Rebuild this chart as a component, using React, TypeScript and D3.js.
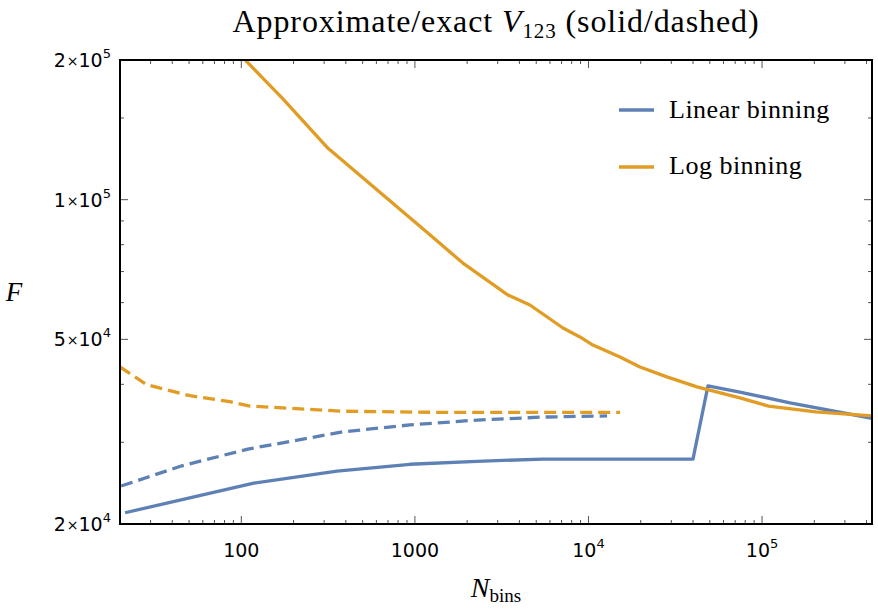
import React from "react";
import * as d3 from "d3";

// values (N_bins, F)
const linApproxN = [21.4, 118, 356, 937, 2277, 5470, 17300, 40000, 48800, 74500, 145000, 430000];
const linApproxF = [21150, 24500, 26000, 26900, 27300, 27600, 27600, 27600, 39700, 38500, 36500, 33800];

const linExactN = [20.3, 45.5, 109, 385, 937, 2277, 5470, 12800];
const linExactF = [24150, 26700, 29000, 31600, 32700, 33500, 34000, 34200];

const logApproxN = [100, 171, 316, 1220, 1890, 2600, 3440, 4600, 7130, 8930, 10600, 15200, 19800, 28300, 42200, 74500, 109000, 204000, 430000];
const logApproxF = [204000, 166000, 129000, 84000, 73000, 67100, 62300, 59300, 52900, 50600, 48600, 45800, 43600, 41500, 39500, 37400, 35900, 34900, 34200];

const logExactN = [20, 28.6, 50.6, 86, 112, 385, 1450, 15200];
const logExactF = [43600, 39900, 37800, 36700, 35900, 35000, 34800, 34800];

const xMajor = [100, 1000, 1e4, 1e5];
const xMinor = [30, 40, 50, 60, 70, 80, 90, 200, 300, 400, 500, 600, 700, 800, 900, 2000, 3000, 4000, 5000, 6000, 7000, 8000, 9000, 2e4, 3e4, 4e4, 5e4, 6e4, 7e4, 8e4, 9e4, 2e5, 3e5, 4e5];
const yMajor = [2e4, 5e4, 1e5, 2e5];
const yMajorLabels = [["2", "4"], ["5", "4"], ["1", "5"], ["2", "5"]];
const yMinor = [3e4, 4e4, 6e4, 7e4, 8e4, 9e4, 1.5e5];

const legendNames = ["Linear binning", "Log binning"];

const BLUE = "#5E81B5";
const ORANGE = "#E19C24";
const SERIF = "'Liberation Serif', 'DejaVu Serif', serif";
const SANS = "'DejaVu Sans', sans-serif";

const W = 878, H = 609;
const L = 120, R = 872, T = 60, B = 524;

export default function App() {
  const x = d3.scaleLog().domain([20, 4.3e5]).range([L, R]);
  const y = d3.scaleLog().domain([2e4, 2e5]).range([B, T]);

  const line = d3.line<[number, number]>().x(d => x(d[0])).y(d => y(d[1]));
  const pts = (ns: number[], fs: number[]) => ns.map((n, i) => [n, fs[i]] as [number, number]);

  const series = [
    { d: pts(linApproxN, linApproxF), c: BLUE, dash: undefined },
    { d: pts(logApproxN, logApproxF), c: ORANGE, dash: undefined },
    { d: pts(linExactN, linExactF), c: BLUE, dash: "12,6" },
    { d: pts(logExactN, logExactF), c: ORANGE, dash: "12,6" },
  ];

  const tickColor = "#555";

  return (
    <svg width={W} height={H} style={{ position: "absolute", left: 0, top: 0, background: "#fff" }}>
      <defs>
        <clipPath id="plotClip">
          <rect x={L} y={T} width={R - L} height={B - T} />
        </clipPath>
      </defs>

      {/* title */}
      <text x={(L + R) / 2} y={32} textAnchor="middle" fontFamily={SERIF} fontSize={32} letterSpacing={0.9}>
        Approximate/exact{" "}
        <tspan fontStyle="italic">V</tspan>
        <tspan fontSize={21} dy={6}>123</tspan>
        <tspan dy={-6}> (solid/dashed)</tspan>
      </text>

      {/* ticks */}
      <g stroke={tickColor} strokeWidth={1}>
        {xMajor.map(v => (
          <g key={"xM" + v}>
            <line x1={x(v)} x2={x(v)} y1={B} y2={B - 8} />
            <line x1={x(v)} x2={x(v)} y1={T} y2={T + 8} />
          </g>
        ))}
        {xMinor.map(v => (
          <g key={"xm" + v}>
            <line x1={x(v)} x2={x(v)} y1={B} y2={B - 4} />
            <line x1={x(v)} x2={x(v)} y1={T} y2={T + 4} />
          </g>
        ))}
        {yMajor.map(v => (
          <g key={"yM" + v}>
            <line x1={L} x2={L + 8} y1={y(v)} y2={y(v)} />
            <line x1={R} x2={R - 8} y1={y(v)} y2={y(v)} />
          </g>
        ))}
        {yMinor.map(v => (
          <g key={"ym" + v}>
            <line x1={L} x2={L + 4} y1={y(v)} y2={y(v)} />
            <line x1={R} x2={R - 4} y1={y(v)} y2={y(v)} />
          </g>
        ))}
      </g>

      {/* x tick labels */}
      <g fontFamily={SANS} fontSize={19} fill="#000">
        {xMajor.map(v => {
          const e = Math.round(Math.log10(v));
          return (
            <text key={"xl" + v} x={x(v)} y={557} textAnchor="middle">
              {e < 4 ? String(v) : (
                <>
                  10<tspan fontSize={13} dy={-9}>{e}</tspan>
                </>
              )}
            </text>
          );
        })}
        {yMajor.map((v, i) => (
          <text key={"yl" + v} x={111} y={y(v) + 7} textAnchor="end">
            {yMajorLabels[i][0]}
            <tspan fontSize={14} dx={1} dy={-1}>×</tspan>
            <tspan dy={1}>10</tspan>
            <tspan fontSize={13} dy={-9}>{yMajorLabels[i][1]}</tspan>
          </text>
        ))}
      </g>

      {/* axis labels */}
      <text x={(L + R) / 2} y={597} textAnchor="middle" fontFamily={SERIF} fontSize={28}>
        <tspan fontStyle="italic">N</tspan>
        <tspan fontSize={19} dy={5}>bins</tspan>
      </text>
      <text x={14} y={301} textAnchor="middle"
        fontFamily={SERIF} fontSize={27} fontStyle="italic">F</text>

      {/* data */}
      <g clipPath="url(#plotClip)" fill="none" strokeWidth={3.3} strokeLinejoin="round">
        {series.map((s, i) => (
          <path key={i} d={line(s.d) || ""} stroke={s.c} strokeDasharray={s.dash} />
        ))}
      </g>

      {/* frame */}
      <rect x={L} y={T} width={R - L} height={B - T} fill="none" stroke="#000" strokeWidth={2} />

      {/* legend */}
      {legendNames.map((n, i) => (
        <g key={n}>
          <line x1={619} x2={654} y1={110 + i * 57} y2={110 + i * 57} stroke={i === 0 ? BLUE : ORANGE} strokeWidth={3.3} />
          <text x={669} y={118 + i * 56} fontFamily={SERIF} fontSize={26} letterSpacing={0.5}>{n}</text>
        </g>
      ))}
    </svg>
  );
}
